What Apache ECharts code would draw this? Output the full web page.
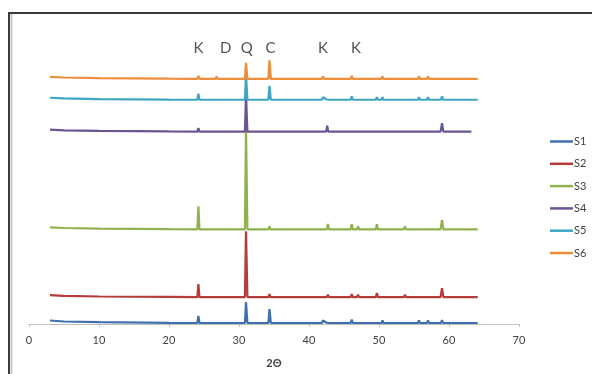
<!DOCTYPE html>
<html>
<head>
<meta charset="utf-8">
<script src="https://cdn.jsdelivr.net/npm/echarts@6/dist/echarts.min.js"></script>
<style>
  html, body { margin: 0; padding: 0; background: #fff; }
  #chart { width: 592px; height: 374px; }
</style>
</head>
<body>
<div id="chart"></div>
<script>
// 2θ vs offset intensity
const names = ['S1', 'S2', 'S3', 'S4', 'S5', 'S6']
const colors = ['#3e70ad', '#b43c39', '#8fb24e', '#6b5493', '#3ea6c2', '#ee8d3a']

const s1 = [
  [3, 3.5], [5, 2.5], [10, 1.8], [20, 1.2],
  [24.05, 1], [24.2, 8], [24.35, 1],
  [26.65, 1], [26.8, 3], [26.95, 1],
  [30.85, 1], [31.0, 22], [31.2, 1],
  [34.2, 1], [34.35, 15], [34.55, 1],
  [35.95, 1], [36.1, 3], [36.25, 1],
  [41.85, 1], [42.0, 3.5], [42.15, 1.5], [42.45, 1.5], [42.6, 3.5], [42.75, 1],
  [45.95, 1], [46.1, 4.5], [46.25, 1],
  [46.85, 1], [47.0, 3], [47.15, 1],
  [49.75, 1], [49.9, 3], [50.05, 1],
  [50.35, 1], [50.5, 3.5], [50.65, 1],
  [53.55, 1], [53.7, 2.5], [53.85, 1],
  [55.55, 1], [55.7, 3.5], [55.85, 1],
  [56.85, 1], [57.0, 3.5], [57.15, 1],
  [58.85, 1], [59.0, 4], [59.15, 1],
  [64.1, 1],
]
const s2 = [
  [3, 29], [5, 28.2], [10, 27.6], [20, 27.2],
  [24.05, 27], [24.2, 40], [24.35, 27],
  [30.85, 27], [31.0, 93], [31.2, 27],
  [34.2, 27], [34.35, 30], [34.5, 27],
  [42.55, 27], [42.7, 29.5], [42.85, 27],
  [45.95, 27], [46.1, 30], [46.25, 27],
  [46.85, 27], [47.0, 29.5], [47.15, 27],
  [49.55, 27], [49.7, 31], [49.85, 27],
  [53.55, 27], [53.7, 29.5], [53.85, 27],
  [58.8, 27], [59.0, 36], [59.2, 27],
  [64.1, 27],
]
const s3 = [
  [3, 97], [5, 96.3], [10, 95.7], [20, 95.2],
  [24.05, 95], [24.2, 118], [24.35, 95],
  [30.85, 95], [31.0, 196], [31.2, 95],
  [34.2, 95], [34.35, 98], [34.5, 95],
  [42.55, 95], [42.7, 100.5], [42.85, 95],
  [45.95, 95], [46.1, 100], [46.25, 95],
  [46.85, 95], [47.0, 98], [47.15, 95],
  [49.55, 95], [49.7, 100], [49.85, 95],
  [53.55, 95], [53.7, 98], [53.85, 95],
  [58.8, 95], [59.0, 104.5], [59.2, 95],
  [64.1, 95],
]
const s4 = [
  [3, 195], [5, 194.3], [10, 193.7], [20, 193.2],
  [24.05, 193], [24.2, 196.5], [24.35, 193],
  [30.85, 193], [31.0, 230], [31.2, 193],
  [34.2, 193], [34.35, 194.5], [34.5, 193],
  [42.45, 193], [42.6, 199], [42.75, 193],
  [45.95, 193], [46.1, 195], [46.25, 193],
  [46.85, 193], [47.0, 195], [47.15, 193],
  [49.55, 193], [49.7, 195], [49.85, 193],
  [53.55, 193], [53.7, 195], [53.85, 193],
  [58.8, 193], [59.0, 201.5], [59.2, 193],
  [63.2, 193],
]
const s5 = [
  [3, 227], [5, 226.3], [10, 225.7], [20, 225.2],
  [24.05, 225], [24.2, 231], [24.35, 225],
  [26.65, 225], [26.8, 227], [26.95, 225],
  [30.85, 225], [31.0, 250], [31.2, 225],
  [34.2, 225], [34.35, 239], [34.55, 225],
  [41.85, 225], [42.0, 227.5], [42.15, 225.5], [42.45, 225.5], [42.6, 227.5], [42.75, 225],
  [45.95, 225], [46.1, 228.5], [46.25, 225],
  [49.55, 225], [49.7, 227.5], [49.85, 225],
  [50.35, 225], [50.5, 227.5], [50.65, 225],
  [53.55, 225], [53.7, 227], [53.85, 225],
  [55.55, 225], [55.7, 227.5], [55.85, 225],
  [56.85, 225], [57.0, 227.5], [57.15, 225],
  [58.85, 225], [59.0, 228.5], [59.15, 225],
  [64.1, 225],
]
const s6 = [
  [3, 248], [5, 247.3], [10, 246.7], [20, 246.2],
  [24.05, 246], [24.2, 249], [24.35, 246],
  [26.65, 246], [26.8, 248.5], [26.95, 246],
  [30.85, 246], [31.0, 262], [31.2, 246],
  [34.2, 246], [34.35, 264.5], [34.55, 246],
  [41.85, 246], [42.0, 248.5], [42.15, 246],
  [45.95, 246], [46.1, 249], [46.25, 246],
  [50.35, 246], [50.5, 248.5], [50.65, 246],
  [55.55, 246], [55.7, 248.5], [55.85, 246],
  [56.85, 246], [57.0, 248.5], [57.15, 246],
  [58.85, 246], [59.0, 247.5], [59.15, 246],
  [64.1, 246],
]

// phase markers above the patterns
const phaseNames = ['K', 'D', 'Q', 'C', 'K', 'K']
const phasePos = [24.2, 28.1, 31.1, 34.5, 42.0, 46.7]
const phaseY = 277

const xTicks = [0, 10, 20, 30, 40, 50, 60, 70]

const chart = echarts.init(document.getElementById('chart'))

const lines = [s1, s2, s3, s4, s5, s6].map((d, i) => ({
  name: names[i],
  type: 'line',
  data: d,
  showSymbol: false,
  symbol: 'none',
  lineStyle: { width: 2.2, color: colors[i] },
  itemStyle: { color: colors[i] },
  z: 2 + i,
}))

chart.setOption({
  animation: false,
  backgroundColor: '#fff',
  textStyle: { fontFamily: 'Lato' },
  graphic: [
    { type: 'line', shape: { x1: 9, y1: 13, x2: 592, y2: 13 }, style: { stroke: '#3a3a3a', lineWidth: 2 } },
    { type: 'line', shape: { x1: 9, y1: 12, x2: 9, y2: 374 }, style: { stroke: '#3a3a3a', lineWidth: 2 } },
    { type: 'line', shape: { x1: 11.5, y1: 14, x2: 11.5, y2: 374 }, style: { stroke: '#c8c8c8', lineWidth: 2 } },
  ],
  grid: { left: 29, right: 73, top: 25, bottom: 49 },
  legend: {
    data: names,
    orient: 'vertical',
    left: 545,
    top: 131,
    icon: 'rect',
    itemWidth: 23,
    itemHeight: 2.5,
    itemGap: 11.3,
    textStyle: { fontSize: 11, color: '#404040', fontFamily: 'Lato', padding: [0, 0, 0, -4] },
  },
  xAxis: {
    type: 'value',
    min: 0,
    max: 70,
    interval: 10,
    name: '2Θ',
    nameLocation: 'middle',
    nameGap: 34,
    nameTextStyle: { fontSize: 11, fontWeight: 'bold', color: '#404040' },
    axisLine: { lineStyle: { color: '#bfbfbf', width: 1 } },
    axisTick: { show: true, length: 3, lineStyle: { color: '#bfbfbf' } },
    axisLabel: {
      fontSize: 11,
      color: '#404040',
      margin: 11,
      formatter: v => (xTicks.includes(v) ? String(v) : ''),
    },
    splitLine: { show: false },
  },
  yAxis: {
    type: 'value',
    min: 0,
    max: 300,
    show: false,
  },
  series: [
    ...lines,
    {
      name: 'phases',
      type: 'scatter',
      data: phasePos.map((x, i) => ({ value: [x, phaseY], name: phaseNames[i] })),
      symbolSize: 0,
      silent: true,
      label: {
        show: true,
        position: 'inside',
        formatter: p => p.name,
        fontSize: 15,
        color: '#262626',
        fontFamily: 'Lato',
      },
      z: 10,
    },
  ],
})
</script>
</body>
</html>
